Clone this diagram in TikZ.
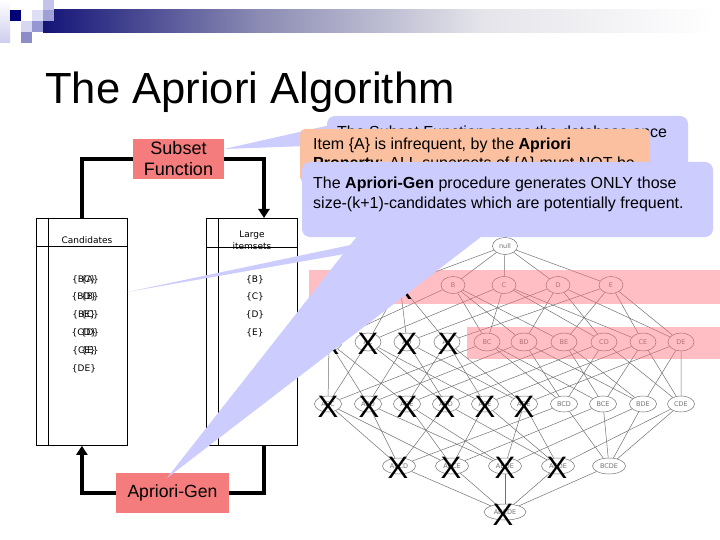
\documentclass[tikz,border=0pt]{standalone}
\usepackage{fontspec}
\setmainfont{Liberation Sans}
\newfontfamily\tblfont{DejaVu Sans}
\usetikzlibrary{shapes.geometric,arrows.meta}
\definecolor{navy}{RGB}{20,20,120}
\definecolor{barmid}{RGB}{140,140,180}
\definecolor{barlight}{RGB}{228,228,234}
\definecolor{lav}{RGB}{204,204,255}
\definecolor{peach}{RGB}{250,192,160}
\definecolor{boxpink}{RGB}{244,124,124}
\definecolor{bandpink}{RGB}{255,110,125}
\definecolor{latgray}{RGB}{115,115,115}
\definecolor{sqa}{RGB}{195,195,235}
\definecolor{sqb}{RGB}{0,0,120}
\definecolor{sqc}{RGB}{222,222,245}
\definecolor{sqd}{RGB}{160,160,215}
\definecolor{sqe}{RGB}{215,215,242}
\definecolor{sqf}{RGB}{150,150,210}
\definecolor{sqg}{RGB}{140,140,200}
\definecolor{sqh}{RGB}{205,205,238}
\begin{document}
\begin{tikzpicture}[x=1pt,y=-1pt,
  conn/.style={line width=4pt},
  arr/.style={-{Triangle[length=9pt,width=11pt]}},
  tbl/.style={draw, line width=0.8pt, inner sep=0},
  rule/.style={line width=0.8pt},
  itm/.style={font=\tblfont\fontsize{9}{10}\selectfont, inner sep=0},
  pinkbox/.style={fill=boxpink, inner sep=0},
  lat/.style={ellipse, draw=latgray, line width=0.5pt, inner sep=0, font=\tblfont\fontsize{6.5}{7}\selectfont, text=latgray},
  ledge/.style={draw=latgray, line width=0.5pt},
  xmark/.style={font=\fontsize{31}{31}\selectfont, inner sep=0},
  ctext/.style={font=\fontsize{16}{19}\selectfont, inner sep=0, anchor=base west}
]
\useasboundingbox (0,0) rectangle (720,540);
\fill[white] (0,0) rectangle (720,540);

% decoration top left
\shade[top color=white, bottom color=sqh] (0,0) rectangle (10,43);
\shade[left color=navy, right color=barmid] (43,10) rectangle (260.5,33);
\shade[left color=barmid, right color=barlight] (260,10) rectangle (480.5,33);
\shade[left color=barlight, right color=white] (480,10) rectangle (715,33);
\fill[sqa] (43,0) rectangle (54,10);
\fill[sqb] (10,10) rectangle (21,21);
\fill[sqc] (32,10) rectangle (43,21);
\fill[sqd] (43,10) rectangle (54,21);
\fill[sqe] (21,21) rectangle (32,32);
\fill[sqf] (32,21) rectangle (43,32);
\fill[sqg] (21,32) rectangle (32,43);

% title
\node[anchor=base west, inner sep=0, font=\fontsize{43.6}{50}\selectfont] (title) at (45,104) {The Apriori Algorithm};

% tables
\node[tbl, minimum width=91pt, minimum height=227pt, anchor=north west] (cand) at (36,218) {};
\draw[rule] (48,218) -- (48,445);
\draw[rule] (36,246) -- (127,246);
\node[itm] (candlbl) at (87,240) {Candidates};

\node[tbl, minimum width=91pt, minimum height=227pt, anchor=north west] (large) at (206,218) {};
\node[itm, align=center, font=\tblfont\fontsize{9}{12}\selectfont] (largelbl) at (252,240) {Large\\itemsets};
\draw[rule] (218,218) -- (218,445);
\draw[rule] (206,247) -- (297,247);

\foreach \t/\o/\y [count=\i] in {BC/A/280, BD/B/297, BE/C/315, CD/D/333, CE/E/351} {
  \node[itm] (c\i) at (84,\y) {\{\t\}};
  \node[itm] (co\i) at (90,\y) {\{\o\}};
}
\node[itm] (c6) at (84,369) {\{DE\}};
\foreach \t/\y in {B/280, C/297, D/315, E/333}
  \node[itm] (l1\t) at (255,\y) {\{\t\}};

% boxes
\node[pinkbox, minimum width=91pt, minimum height=40pt, align=center, font=\fontsize{18}{21}\selectfont] (subset) at (178.5,159) {Subset\\Function};
\node[pinkbox, minimum width=113pt, minimum height=40pt, font=\fontsize{17.6}{20}\selectfont] (gen) at (172.5,493) {Apriori-Gen};
\coordinate (lt) at (264,218);
\coordinate (lb) at (264,445);

% connectors
\draw[conn] (cand.north) -- (cand.north |- subset.west) -- (subset.west);
\draw[conn, arr] (subset.east) -- (subset.east -| lt) -- (lt);
\draw[conn] (lb) -- (lb |- gen.east) -- (gen.east);
\draw[conn, arr] (gen.west) -- (gen.west -| cand.south) -- (cand.south);

% lattice nodes
\node[lat, minimum width=25pt, minimum height=17pt] (lnull) at (505,246) {null};
\foreach \n/\x in {A/400,B/453,C/504,D/558,E/611}
  \node[lat, minimum width=24pt, minimum height=17pt] (l\n) at (\x,285) {\n};
\foreach \n/\x in {AB/329,AC/368,AD/407,AE/447,BC/487,BD/524,BE/564,CD/604,CE/643,DE/681}
  \node[lat, minimum width=26pt, minimum height=18pt] (l\n) at (\x,342) {\n};
\foreach \n/\x in {ABC/328,ABD/368,ABE/407,ACD/446,ACE/485,ADE/524,BCD/564,BCE/603,BDE/643,CDE/681}
  \node[lat, minimum width=27pt, minimum height=16pt] (l\n) at (\x,404) {\n};
\foreach \n/\x in {ABCD/399,ABCE/452,ABDE/505,ACDE/558,BCDE/609}
  \node[lat, minimum width=33pt, minimum height=16pt] (l\n) at (\x,466) {\n};
\node[lat, minimum width=42pt, minimum height=16pt] (lABCDE) at (505,512) {ABCDE};

% lattice edges
\foreach \n in {A,B,C,D,E} \draw[ledge] (lnull) -- (l\n);
\foreach \p/\pa/\pb in {AB/A/B,AC/A/C,AD/A/D,AE/A/E,BC/B/C,BD/B/D,BE/B/E,CD/C/D,CE/C/E,DE/D/E}
  \draw[ledge] (l\pa) -- (l\p) (l\pb) -- (l\p);
\foreach \p/\pa/\pb/\pc in {ABC/AB/AC/BC,ABD/AB/AD/BD,ABE/AB/AE/BE,ACD/AC/AD/CD,ACE/AC/AE/CE,ADE/AD/AE/DE,BCD/BC/BD/CD,BCE/BC/BE/CE,BDE/BD/BE/DE,CDE/CD/CE/DE}
  \draw[ledge] (l\pa) -- (l\p) (l\pb) -- (l\p) (l\pc) -- (l\p);
\foreach \p/\pa/\pb/\pc/\pd in {ABCD/ABC/ABD/ACD/BCD,ABCE/ABC/ABE/ACE/BCE,ABDE/ABD/ABE/ADE/BDE,ACDE/ACD/ACE/ADE/CDE,BCDE/BCD/BCE/BDE/CDE}
  \draw[ledge] (l\pa) -- (l\p) (l\pb) -- (l\p) (l\pc) -- (l\p) (l\pd) -- (l\p);
\foreach \n in {ABCD,ABCE,ABDE,ACDE,BCDE} \draw[ledge] (l\n) -- (lABCDE);

% pink bands
\fill[bandpink, fill opacity=0.45] (309,270) rectangle (720,304);
\fill[bandpink, fill opacity=0.45] (467,327) rectangle (720,359);

% X marks
\node[xmark] (xA) at (402,289) {X};
\foreach \x [count=\i] in {329,368,407,448} \node[xmark] (x2\i) at (\x,344) {X};
\foreach \x [count=\i] in {328,369,407,445,485,524} \node[xmark] (x3\i) at (\x,407) {X};
\foreach \x [count=\i] in {398,451,505,557} \node[xmark] (x4\i) at (\x,468) {X};
\node[xmark] (x5) at (503,515) {X};

% callout A
\fill[lav, rounded corners=8pt] (327,116) rectangle (688,175);
\fill[lav] (224,149) -- (335,124) -- (335,145) -- cycle;
\node[ctext] (ta) at (337,138) {The Subset Function scans the database once};

% callout B
\fill[peach, rounded corners=5pt] (300,129) rectangle (650,182);
\node[ctext] (tb1) at (313,150) {Item \{A\} is infrequent, by the \textbf{Apriori}};
\node[ctext] (tb2) at (313,168.5) {\textbf{Property}: ALL supersets of \{A\} must NOT be};

% callout C
\fill[lav] (127,292) -- (422,230) -- (482,230) -- cycle;
\fill[lav] (167,478) -- (362,230) -- (490,230) -- cycle;
\fill[lav, rounded corners=8pt] (302,162) rectangle (713,237);
\node[ctext] (tc1) at (313,189) {The \textbf{Apriori-Gen} procedure generates ONLY those};
\node[ctext] (tc2) at (313,208) {size-(k+1)-candidates which are potentially frequent.};
\end{tikzpicture}
\end{document}
